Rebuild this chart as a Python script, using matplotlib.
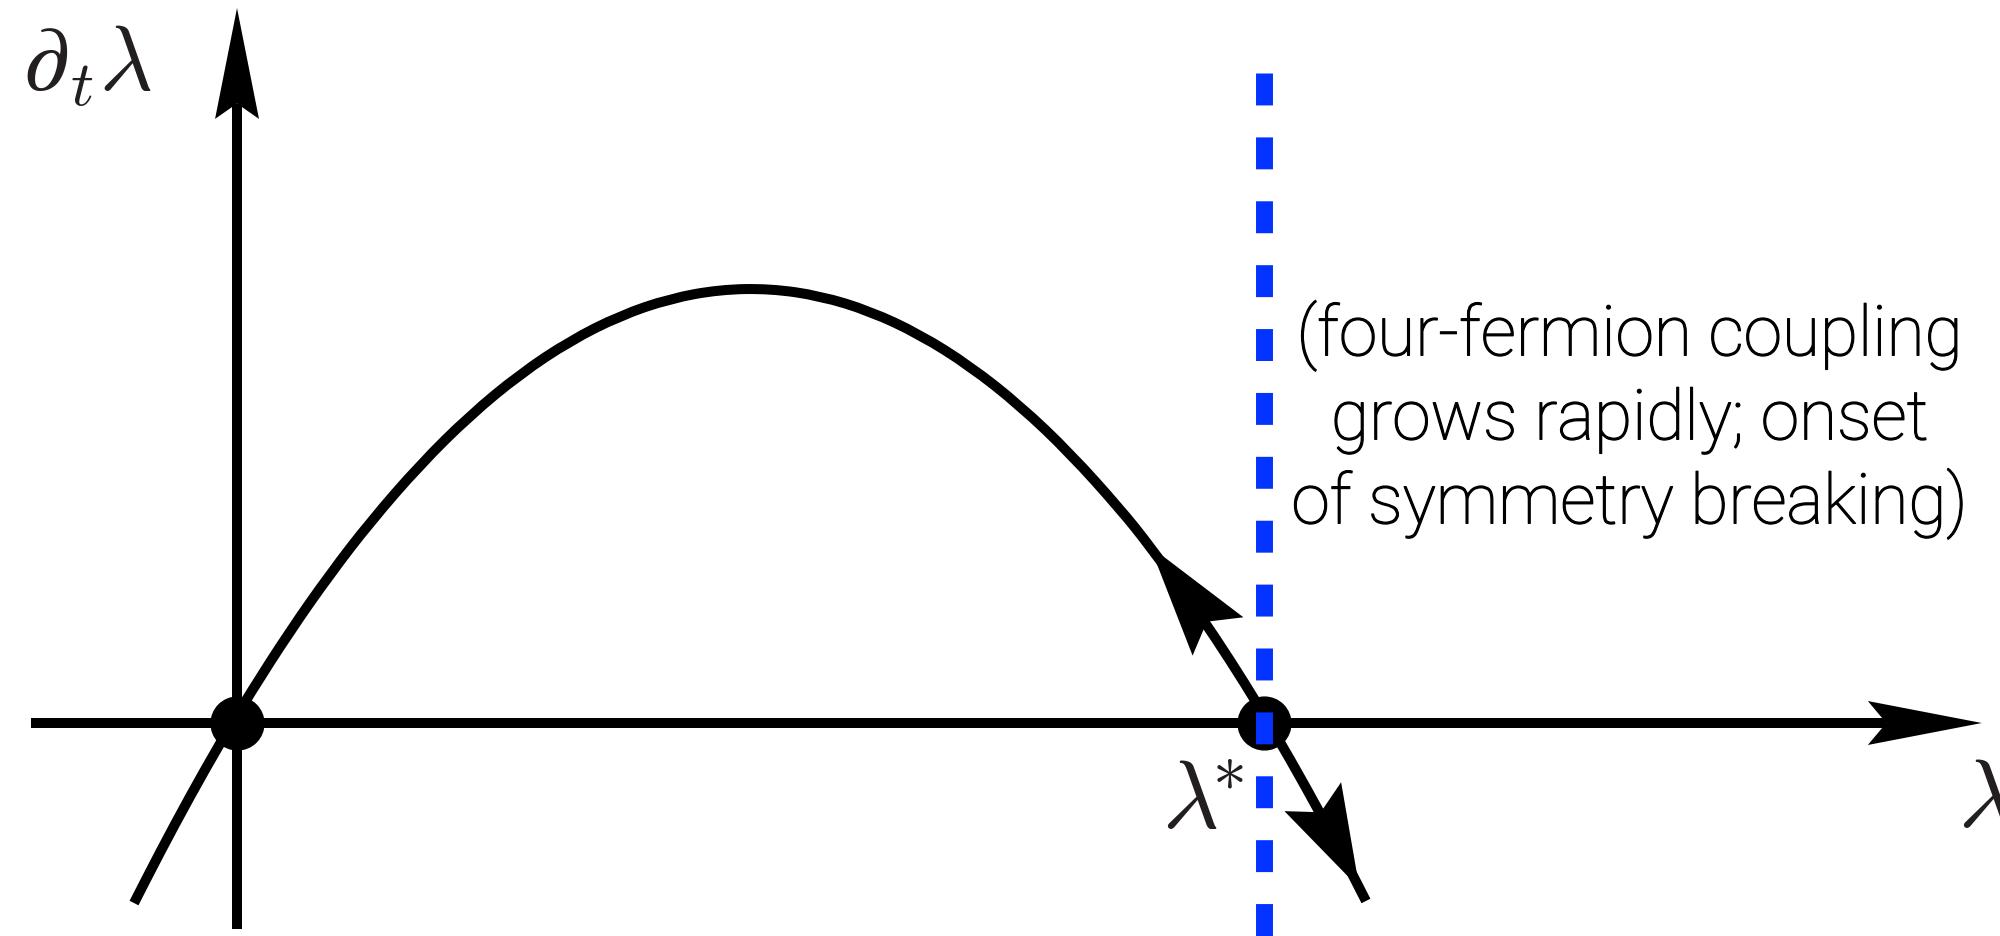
import numpy as np
import matplotlib
matplotlib.use('Agg')
import matplotlib.pyplot as plt
import matplotlib.patheffects as pe
from matplotlib.patches import Polygon, PathPatch
from matplotlib.path import Path

plt.rcParams['mathtext.fontset'] = 'cm'
plt.rcParams['lines.scale_dashes'] = False

# flow of the coupling, lambda measured in units of lambda*
lam = [-0.1003, -0.0750, -0.0458, -0.0166, 0.0127, 0.0516, 0.0906, 0.1295, 0.1782,
       0.2269, 0.2756, 0.3243, 0.3730, 0.4216, 0.4703, 0.5190, 0.5677, 0.6164, 0.6650,
       0.7137, 0.7624, 0.8111, 0.8598, 0.8890, 0.9377, 0.9669, 0.9961, 1.0253, 1.0545,
       1.0789, 1.0993]
beta = [-0.1753, -0.1258, -0.0714, -0.0198, 0.0289, 0.0895, 0.1450, 0.1955, 0.2515,
        0.2996, 0.3398, 0.3722, 0.3967, 0.4133, 0.4221, 0.4230, 0.4160, 0.4011, 0.3783,
        0.3476, 0.3091, 0.2627, 0.2085, 0.1721, 0.1052, 0.0613, 0.0146, -0.0350, -0.0874,
        -0.1333, -0.1733]
fixed_points = [0.0, 1.0]
note_lines = ['(four-fermion coupling', 'grows rapidly; onset', 'of symmetry breaking)']


def head(ax, tip, d, length, half, notch):
    # notched arrow head, tip pointing along d
    tip = np.asarray(tip, float)
    d = np.asarray(d, float)
    d = d / np.hypot(*d)
    n = np.array([-d[1], d[0]])
    back = tip - length * d
    pts = [tip, back + half * n, back + notch * d, back - half * n]
    ax.add_patch(Polygon(pts, closed=True, fc='k', ec='none', zorder=3))
    return back + notch * d


def smooth_path(x, y):
    # quadratic b-spline through the midpoints of the sampled points
    p = np.column_stack([x, y])
    verts = [p[0], (p[0] + p[1]) / 2]
    codes = [Path.MOVETO, Path.LINETO]
    for k in range(1, len(p) - 1):
        verts += [p[k], (p[k] + p[k + 1]) / 2]
        codes += [Path.CURVE3, Path.CURVE3]
    verts.append(p[-1])
    codes.append(Path.LINETO)
    return Path(verts, codes)


fig = plt.figure(figsize=(20, 9.37), dpi=100)
ax = fig.add_axes([0, 0, 1, 1])
ax.set_xlim(-0.2308, 1.7167)
ax.set_ylim(-0.2074, 0.7050)
ax.axis('off')

lw = 7.2
# axes with arrow heads
end_x = head(ax, (1.699, 0), (1, 0), 0.111, 0.0214, 0.018)
ax.plot([-0.2006, end_x[0]], [0, 0], 'k', lw=lw, solid_capstyle='butt', zorder=1)
end_y = head(ax, (0, 0.6962), (0, 1), 0.108, 0.0214, 0.015)
ax.plot([0, 0], [-0.2006, end_y[1]], 'k', lw=lw, solid_capstyle='butt', zorder=1)

# beta function
ax.add_patch(PathPatch(smooth_path(lam, beta), fc='none', ec='k', lw=lw,
                       joinstyle='round', capstyle='butt', zorder=2))

# flow arrows on the curve
i = 23
head(ax, (lam[i], beta[i]), (lam[i - 1] - lam[i + 1], beta[i - 1] - beta[i + 1]),
     0.110, 0.031, 0.018)
d = np.array([lam[-1] - lam[-2], beta[-1] - beta[-2]])
d = d / np.hypot(*d)
head(ax, np.array([lam[-1], beta[-1]]) - 0.014 * d, d, 0.100, 0.031, 0.017)

# fixed points
ax.plot(fixed_points, [0, 0], 'o', color='k', ms=38, zorder=4)

# critical coupling
ax.plot([fixed_points[1], fixed_points[1]], [0.6329, -0.25], color='#0433ff', lw=12.2,
        dashes=(23, 23), dash_capstyle='butt', zorder=5)

lab_col = '#231f20'
ax.text(-0.2084, 0.617, r'$\partial_t\lambda$', fontsize=66, color=lab_col,
        ha='left', va='baseline')
ax.text(0.9007, -0.1013, r'$\lambda^{\!\!\!*}$', fontsize=70, color=lab_col,
        ha='left', va='baseline')
ax.text(1.6757, -0.1003, r'$\lambda$', fontsize=70, color=lab_col,
        ha='left', va='baseline')

thick = [pe.withStroke(linewidth=0.9, foreground='k')]
for k, line in enumerate(note_lines):
    ax.text(1.3564, 0.358 - k * 0.0818, line, fontsize=50, family='Roboto',
            fontweight='light', ha='center', va='baseline', color='k',
            path_effects=thick)

fig.savefig('out.png', dpi=100)
